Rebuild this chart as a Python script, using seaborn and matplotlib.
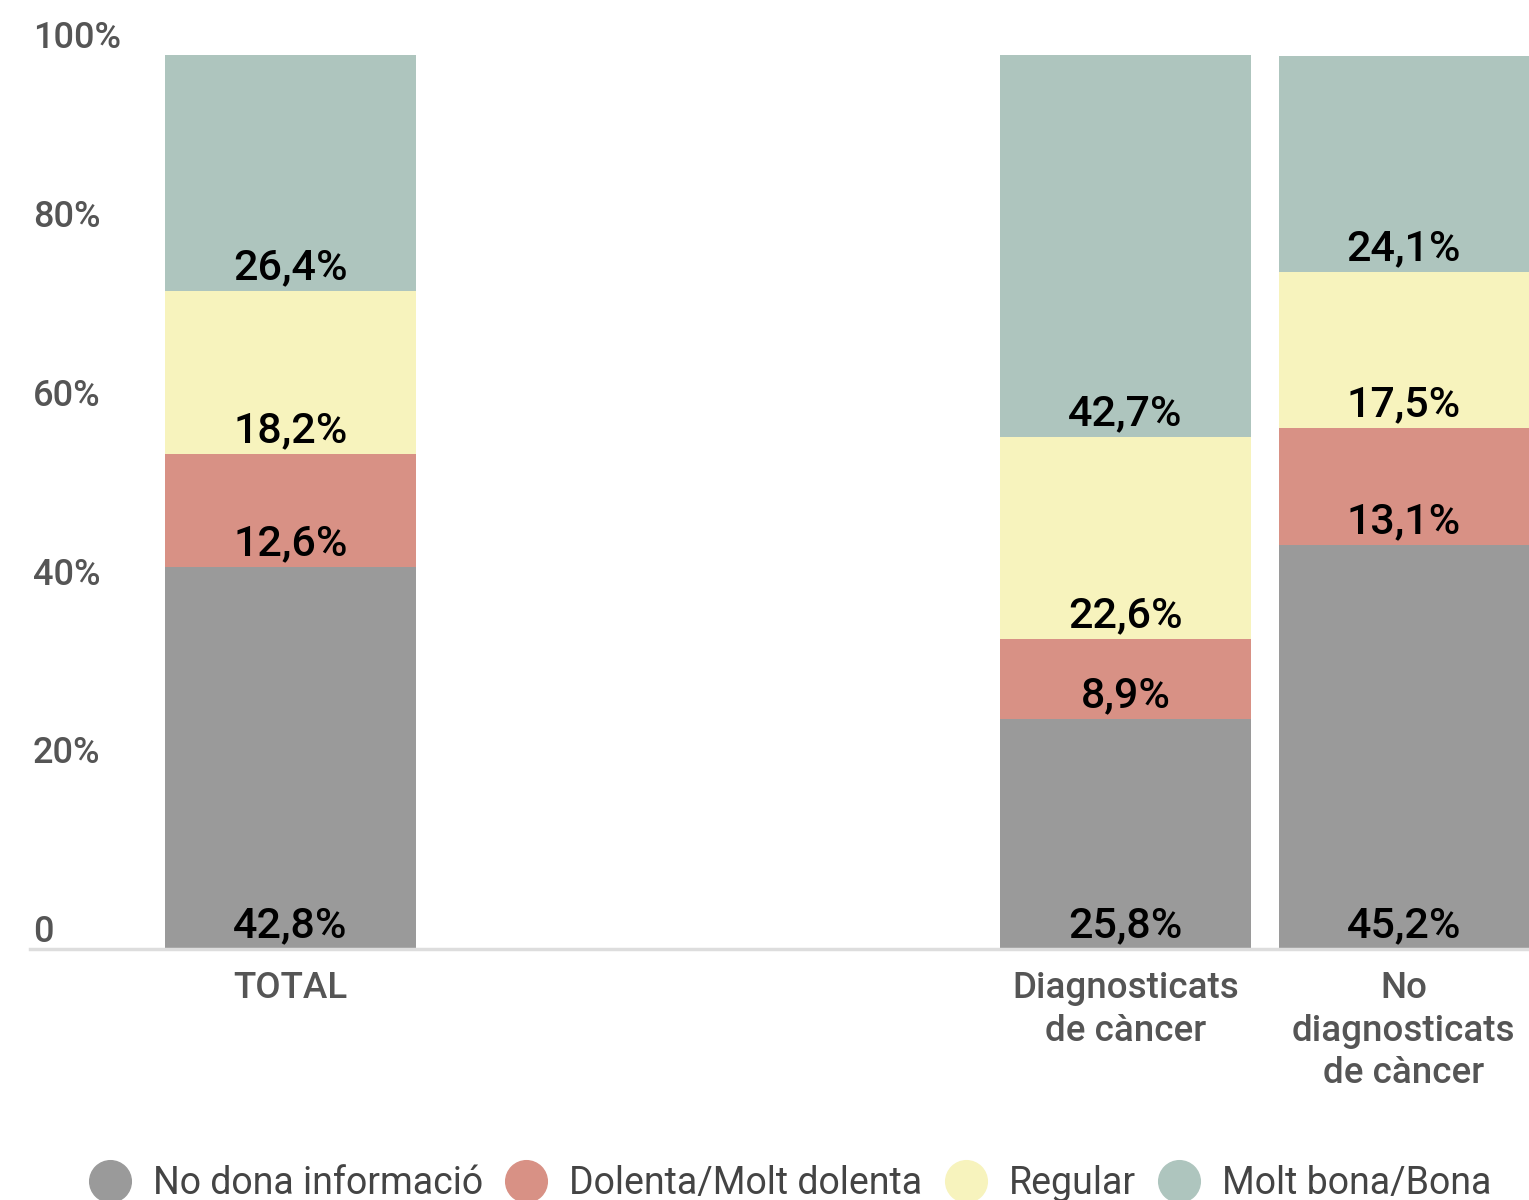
import pandas as pd
import matplotlib.pyplot as plt
import seaborn as sns
from matplotlib.lines import Line2D
from matplotlib.transforms import ScaledTranslation

# Data
grups = ["TOTAL", "Diagnosticats\nde càncer", "No\ndiagnosticats\nde càncer"]
segments = ["No dona informació", "Dolenta/Molt dolenta", "Regular", "Molt bona/Bona"]
no_dona = [42.8, 25.8, 45.2]
dolenta = [12.6, 8.9, 13.1]
regular = [18.2, 22.6, 17.5]
bona = [26.4, 42.7, 24.1]
colors = ["#9a9a9a", "#d89185", "#f7f3bd", "#aec5be"]

# empty slots between TOTAL and the two groups
order = ["TOTAL", "_a", "_b", grups[1], grups[2]]
tick_labels = ["TOTAL", "", "", grups[1], grups[2]]

df = pd.DataFrame({"grup": grups, segments[0]: no_dona, segments[1]: dolenta,
                   segments[2]: regular, segments[3]: bona})
cum = df[segments].cumsum(axis=1)
bottoms = cum - df[segments]

sns.set_theme(style="white")
plt.rcParams["font.family"] = ["Roboto", "DejaVu Sans"]

fig = plt.figure(figsize=(15.29, 12), dpi=100)
ax = fig.add_axes([0.0196, 0.209, 0.9804, 0.745])

# stacked bars: draw the cumulative tops from the highest segment down
for seg, col in reversed(list(zip(segments, colors))):
    d = pd.DataFrame({"grup": df["grup"], "h": cum[seg]})
    sns.barplot(data=d, x="grup", y="h", order=order, color=col, width=0.9,
                linewidth=0, saturation=1, ax=ax)

# value labels at the bottom of each segment
for i, g in enumerate(grups):
    xpos = order.index(g)
    for seg in segments:
        val = df.loc[i, seg]
        ax.text(xpos, bottoms.loc[i, seg] + 1.3, f"{val:.1f}%".replace(".", ","),
                ha="center", va="baseline", fontsize=31, fontweight="medium",
                color="black")

ax.set_xlim(-0.936, 4.45)
ax.set_ylim(0, 100)
ax.set_xlabel("")
ax.set_ylabel("")
sns.despine(ax=ax, left=True, right=True, top=True, bottom=False)
ax.spines["bottom"].set_color("#dddddd")
ax.spines["bottom"].set_linewidth(2.5)

ax.set_xticks(range(len(order)))
ax.set_xticklabels(tick_labels, fontsize=26.5, color="#555555", linespacing=1.27,
                   fontweight="medium")
ax.tick_params(axis="x", length=0, pad=16)

ax.set_yticks([0, 20, 40, 60, 80, 100])
ax.set_yticklabels(["0", "20%", "40%", "60%", "80%", "100%"], fontsize=26,
                   color="#555555", fontweight="medium")
ax.tick_params(axis="y", length=0, pad=-2)
offset = ScaledTranslation(0, 7 / 100, fig.dpi_scale_trans)
for lab in ax.get_yticklabels():
    lab.set_ha("left")
    lab.set_va("baseline")
    lab.set_transform(lab.get_transform() + offset)

handles = [Line2D([0], [0], marker="o", linestyle="", markersize=30,
                  markerfacecolor=c, markeredgecolor=c) for c in colors]
fig.legend(handles, segments, loc="center", bbox_to_anchor=(0.517, 0.014),
           ncol=4, frameon=False, fontsize=27, labelcolor="#444444",
           handlelength=1.1, handletextpad=0.6, columnspacing=0.6)

fig.savefig("out.png", dpi=100)
